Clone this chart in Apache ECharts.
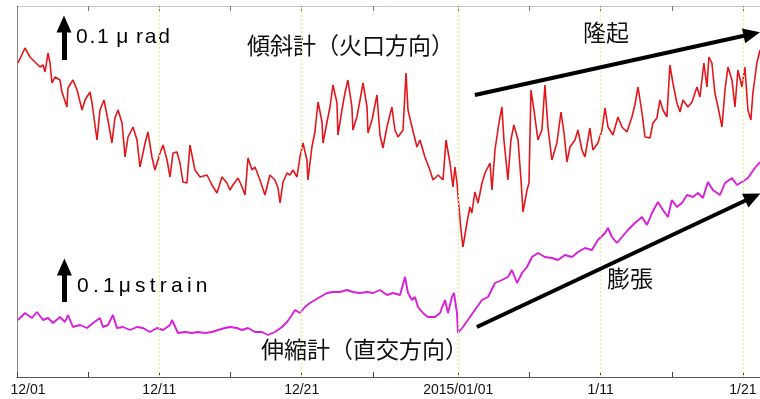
<!DOCTYPE html>
<html><head><meta charset="utf-8">
<script src="https://cdn.jsdelivr.net/npm/echarts@6/dist/echarts.min.js"></script>
<style>html,body{margin:0;padding:0;background:#fff}#c{width:760px;height:399px}</style>
</head><body><div id="c"></div>
<script>
// x = days since 12/01, y = relative reading (arbitrary units)
const tickDays = [0,5,10,15,20,25,31,36,41,46,51];
const labelDays = [0,10,20,31,41,51];
const tickLabels = ['12/01','12/11','12/21','2015/01/01','1/11','1/21'];
const gridDays = [10,20,31,41,51];

const tiltDays = [0.07,0.56,0.91,1.26,1.62,1.83,1.97,2.18,2.32,2.46,
2.67,3.02,3.16,3.51,3.58,3.93,4.22,4.57,4.78,5.13,
5.27,5.62,5.83,6.11,6.39,6.67,6.88,7.10,7.38,7.59,
7.80,8.15,8.43,8.64,9.00,9.20,9.48,9.69,10.05,10.26,
10.54,10.75,10.96,11.24,11.45,11.66,11.94,12.15,12.50,12.86,
13.35,13.70,14.05,14.40,14.75,14.96,15.17,15.53,15.81,16.02,
16.23,16.51,16.72,17.07,17.42,17.77,18.12,18.34,18.48,18.69,
18.97,19.18,19.39,19.67,19.88,20.09,20.37,20.44,20.72,20.93,
21.15,21.43,21.50,21.78,21.99,22.20,22.48,22.55,22.83,23.04,
23.25,23.53,23.60,23.88,24.10,24.31,24.59,24.66,24.94,25.29,
25.50,25.71,25.99,26.34,26.55,26.77,27.12,27.33,27.47,27.75,
28.10,28.31,28.66,29.01,29.23,29.58,29.93,30.14,30.42,30.63,
30.77,30.91,31.05,31.19,31.33,31.61,31.82,31.96,32.17,32.39,
32.67,32.88,33.23,33.37,33.58,33.86,34.07,34.21,34.49,34.70,
34.91,35.20,35.41,35.55,35.83,35.97,36.11,36.32,36.60,36.88,
37.09,37.30,37.58,37.93,38.22,38.43,38.64,38.85,39.20,39.41,
39.69,39.90,40.25,40.46,40.81,41.10,41.31,41.52,41.87,42.22,
42.50,42.85,43.20,43.41,43.63,43.91,44.12,44.47,44.68,44.96,
45.17,45.38,45.66,45.87,46.08,46.36,46.58,46.79,47.14,47.42,
47.77,47.98,48.26,48.47,48.61,48.82,49.03,49.25,49.53,49.74,
49.95,50.23,50.44,50.65,50.93,51.14,51.35,51.56,51.70,51.98,
52.20];
const tiltValues = [314,329,320,315,310,312,305,324,314,294,
300,297,285,270,289,297,287,267,277,285,
274,237,267,277,257,234,259,267,254,220,
240,250,237,210,234,245,220,207,224,232,
217,200,224,225,214,195,194,232,207,200,
202,192,184,200,194,187,192,199,190,182,
219,207,210,197,182,202,197,189,174,195,
204,202,207,200,220,234,217,197,230,245,
275,255,234,255,270,292,274,242,267,284,
297,270,247,260,277,294,270,244,257,282,
242,229,250,270,247,240,247,304,267,250,
230,237,220,207,197,202,197,237,214,190,
210,194,170,147,130,154,170,164,185,174,
194,204,214,187,227,254,270,237,197,237,
252,237,197,165,187,194,287,267,237,247,
292,250,217,234,265,244,215,230,237,247,
227,220,249,227,234,247,269,250,242,260,
250,245,260,272,290,264,240,239,254,259,
277,267,260,312,294,274,265,277,270,275,
290,280,314,290,320,314,284,270,250,287,
310,297,270,307,290,310,267,257,284,314,
327];

const strainDays = [0.07,0.56,1.05,1.40,1.83,2.18,2.53,3.02,3.37,3.58,
3.93,4.43,4.92,5.34,5.83,6.04,6.39,6.74,7.02,7.45,
7.94,8.43,8.85,9.34,9.83,10.26,10.75,10.89,11.31,11.80,
12.29,12.72,13.21,13.70,14.12,14.61,14.96,15.45,15.81,16.23,
16.72,17.21,17.63,18.12,18.62,18.97,19.32,19.53,19.88,20.23,
20.58,20.93,21.29,21.78,22.20,22.69,23.18,23.60,24.10,24.59,
25.01,25.50,25.99,26.41,26.91,27.26,27.47,27.75,27.96,28.17,
28.52,28.87,29.36,29.72,30.07,30.28,30.56,30.70,30.91,30.98,
31.33,31.68,32.17,32.67,33.09,33.58,34.07,34.49,34.77,35.13,
35.48,35.83,36.18,36.60,37.09,37.58,38.01,38.50,38.99,39.41,
39.90,40.39,40.81,41.31,41.52,41.80,42.15,42.50,42.92,43.41,
43.91,44.26,44.61,45.03,45.38,45.73,46.01,46.36,46.72,47.07,
47.49,47.84,48.19,48.54,48.89,49.39,49.74,50.23,50.58,50.93,
51.35,51.84,52.20];
const strainValues = [57,64,59,65,57,59,54,60,55,62,
50,52,49,54,59,50,52,62,49,50,
47,50,49,45,49,47,52,57,44,45,
44,45,44,45,47,49,50,49,47,49,
45,45,42,45,50,55,62,67,64,70,
74,77,80,84,85,85,87,85,84,85,
84,87,82,84,82,100,84,77,80,70,
64,60,60,64,77,64,80,84,64,44,
50,57,67,77,80,94,97,100,107,94,
104,110,120,124,120,119,117,122,120,125,
129,127,137,144,149,140,134,140,147,154,
160,152,164,175,167,160,177,170,174,182,
180,184,179,195,187,182,194,199,192,195,
199,209,215];

const pairs = (d, v) => d.slice(0, Math.min(d.length, v.length)).map((x, i) => [x, v[i]]);
const labelMap = {};
labelDays.forEach((d, i) => { labelMap[String(d)] = tickLabels[i]; });

const chart = echarts.init(document.getElementById('c'), null, {renderer: 'canvas'});
const latin = '"Liberation Sans", Arial, sans-serif';
const cjk = '"Noto Sans CJK JP", sans-serif';

chart.setOption({
  animation: false,
  grid: {left: 17, right: 0, top: 6, bottom: 22},
  xAxis: [{
    type: 'value', min: 0, max: 52.2, position: 'bottom',
    axisLine: {show: true, lineStyle: {color: '#555', width: 1}},
    axisTick: {show: true, inside: true, length: 5, customValues: tickDays, lineStyle: {color: '#444'}},
    axisLabel: {
      customValues: labelDays,
      formatter: v => (v === 0 ? '{a|' + tickLabels[0] + '}' : (labelMap[String(v)] || '')),
      color: '#111', fontSize: 14, fontFamily: latin, margin: 6,
      rich: {a: {padding: [0, 0, 0, 22], fontSize: 14, fontFamily: latin, color: '#111'}}
    },
    splitLine: {show: false}
  }, {
    type: 'value', min: 0, max: 52.2, position: 'top',
    axisLine: {show: true, lineStyle: {color: '#c8c8c8'}},
    axisTick: {show: true, inside: true, length: 5, customValues: tickDays, lineStyle: {color: '#777'}},
    axisLabel: {show: false}, splitLine: {show: false}
  }],
  yAxis: {
    type: 'value', min: 0, max: 371,
    axisLine: {show: true, lineStyle: {color: '#888'}},
    axisTick: {show: false}, axisLabel: {show: false}, splitLine: {show: false}
  },
  series: [{
    type: 'line', name: 'tilt', data: pairs(tiltDays, tiltValues), symbol: 'none',
    lineStyle: {color: '#e3161c', width: 1.6}, z: 3,
    markLine: {
      silent: true, symbol: 'none', label: {show: false},
      lineStyle: {color: '#eeec8c', type: [2, 2], width: 1.2},
      data: gridDays.map(d => ({xAxis: d}))
    }
  }, {
    type: 'line', name: 'strain', data: pairs(strainDays, strainValues), symbol: 'none',
    lineStyle: {color: '#d81ed8', width: 1.9}, z: 3,
    markLine: {
      silent: true, label: {show: false}, symbol: ['none', 'triangle'], symbolSize: [15, 17],
      lineStyle: {color: '#000', width: 4, type: 'solid'},
      data: [
        [{coord: [32.17, 282]}, {coord: [51.63, 343]}],
        [{coord: [32.31, 50]}, {coord: [51.70, 180]}],
        [{coord: [3.30, 317], lineStyle: {width: 5}}, {coord: [3.30, 353]}],
        [{coord: [3.33, 75], lineStyle: {width: 5}}, {coord: [3.33, 110]}]
      ]
    }
  }],
  graphic: [
    {type: 'text', x: 76, y: 37, style: {text: '0\u200A.\u200A1 \u200Aμ \u200Ar\u200Aa\u200Ad', fontSize: 21, fontFamily: latin, fill: '#000', verticalAlign: 'middle'}},
    {type: 'text', x: 77, y: 286, style: {text: '0\u2009.\u20091\u2009μ\u2009s\u2009t\u2009r\u2009a\u2009i\u2009n', fontSize: 21, fontFamily: latin, fill: '#000', verticalAlign: 'middle'}},
    {type: 'text', x: 247, y: 45, style: {text: '傾斜計（火口方向）', fontSize: 23, fontFamily: cjk, fill: '#111', verticalAlign: 'middle'}},
    {type: 'text', x: 261, y: 349, style: {text: '伸縮計（直交方向）', fontSize: 23, fontFamily: cjk, fill: '#111', verticalAlign: 'middle'}},
    {type: 'text', x: 583, y: 32, style: {text: '隆起', fontSize: 23, fontFamily: cjk, fill: '#111', verticalAlign: 'middle'}},
    {type: 'text', x: 607, y: 278, style: {text: '膨張', fontSize: 23, fontFamily: cjk, fill: '#111', verticalAlign: 'middle'}}
  ]
});
</script>
</body></html>
